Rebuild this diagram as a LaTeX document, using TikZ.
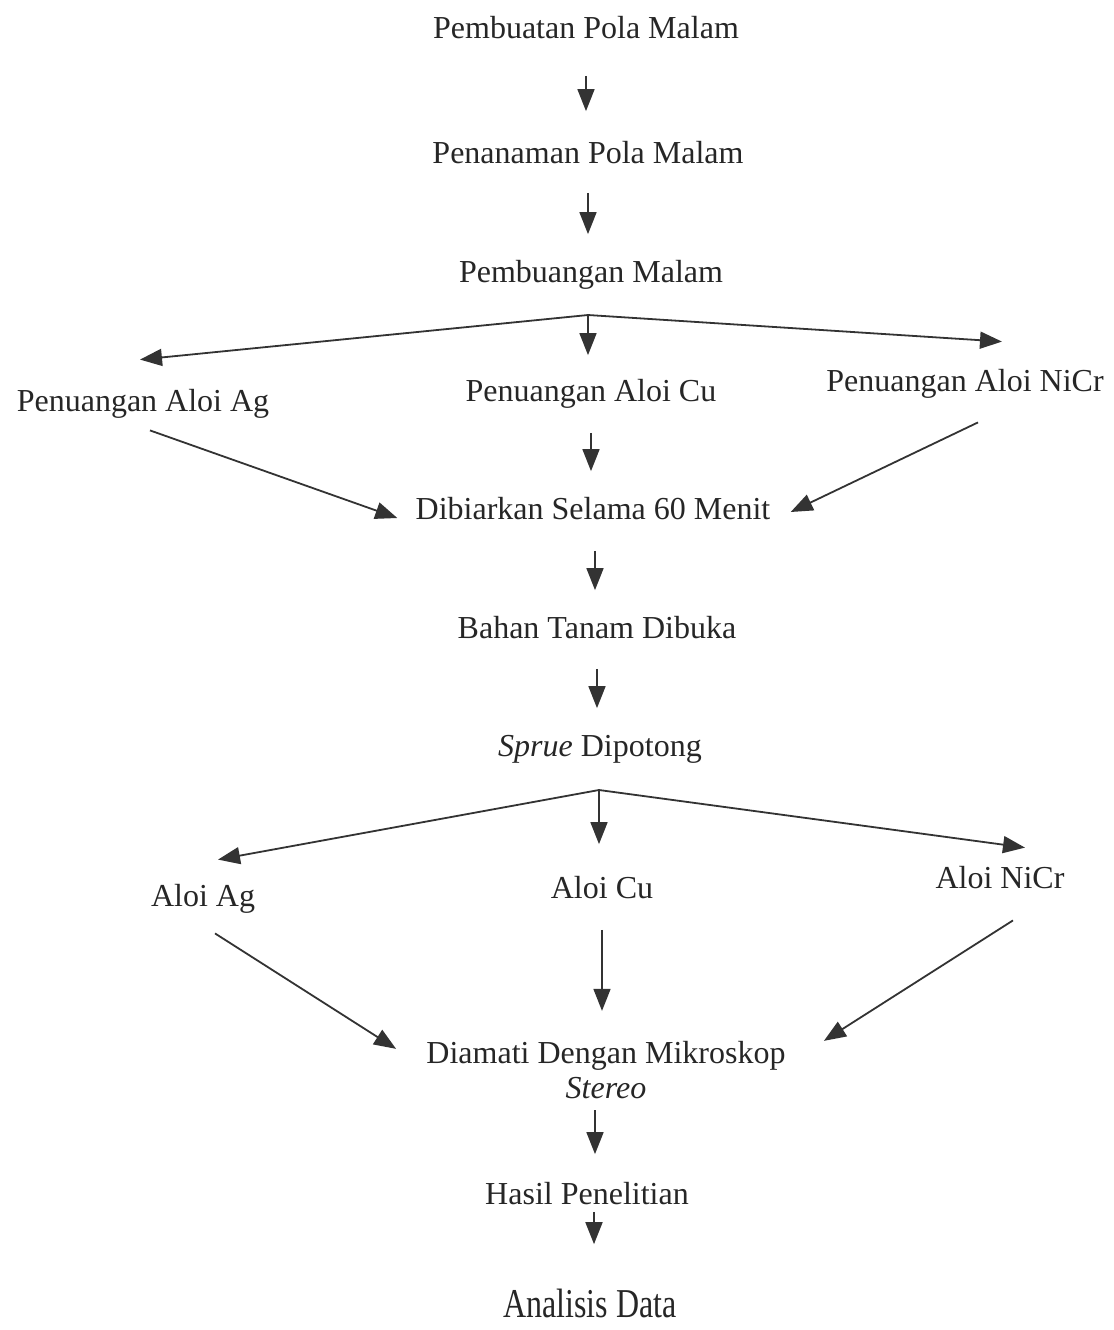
\documentclass[tikz,border=0pt]{standalone}
\usepackage{fontspec}
\setmainfont{Liberation Serif}
\usetikzlibrary{calc,arrows.meta}

\begin{document}
\begin{tikzpicture}[x=0.5pt,y=-0.5pt,font=\fontsize{16}{17.5}\selectfont]
\tikzset{T/.style={inner sep=2pt,text height=13pt,text depth=1.5pt,text=black!85},
A/.style={draw=black!80,line width=0.9pt,-{Triangle[length=11pt,width=8.5pt]},shorten <=12pt,shorten >=9pt}
}
\useasboundingbox (0,0) rectangle (1114,1330);

% Steps before the casting
\node(pbt)[T] at (586,27) {Pembuatan Pola Malam};
\node(pnm)[T] at (588,152) {Penanaman Pola Malam};
\node(pbg)[T] at (591,271) {Pembuangan Malam};

% Casting of the three alloys
\node(ag)[T] at (143,400) {Penuangan Aloi Ag};
\node(cu)[T] at (591,390) {Penuangan Aloi Cu};
\node(nicr)[T] at (965,380) {Penuangan Aloi NiCr};

\node(dib)[T] at (593,508) {Dibiarkan Selama 60 Menit};
\node(bhn)[T] at (597,627) {Bahan Tanam Dibuka};
\node(spr)[T] at (600,745) {\textit{Sprue} Dipotong};

% The three samples
\node(aag)[T] at (203,895) {Aloi Ag};
\node(acu)[T] at (602,887) {Aloi Cu};
\node(anicr)[T] at (1000,877) {Aloi NiCr};

\node(dia)[inner sep=2pt,align=center,text=black!85] at (606,1070) {Diamati Dengan Mikroskop\\\textit{Stereo}};
\node(hasil)[T] at (587,1193) {Hasil Penelitian};
\node(ana)[inner sep=2pt,text=black!85] at (590,1303) {\scalebox{0.78}[1]{\fontsize{20.5}{24}\selectfont Analisis Data}};

% branch points
\coordinate (b1) at (588,315);
\coordinate (b2) at (599,790);

% arrows
\draw[A,shorten <=15pt,shorten >=11pt] (pbt.south) -- (pbt.south |- pnm.north);
\draw[A,shorten <=11pt] (pnm.south) -- (pnm.south |- pbg.north);

\draw[A,shorten <=0pt,shorten >=0pt] (b1) -- ($(ag.north)+(-3,-21.5)$);
\draw[A,shorten <=0pt,shorten >=8pt] (b1) -- (b1 |- cu.north);
\draw[A,shorten <=0pt,shorten >=0pt] (b1) -- ($(nicr.north)+(37,-19.5)$);

\draw[A,shorten <=0pt,shorten >=0pt] ($(ag.south)+(7,11.5)$) -- ($(dib.west)+(-14,10)$);
\draw[A] (cu.south) -- (cu.south |- dib.north);
\draw[A,shorten <=0pt,shorten >=0pt] ($(nicr.south)+(13,23.5)$) -- ($(dib.east)+(16,4)$);

\draw[A] ($(dib.south)+(2,0)$) -- ($(dib.south |- bhn.north)+(2,0)$);
\draw[A,shorten <=11.5pt] (bhn.south) -- (bhn.south |- spr.north);

\draw[A,shorten <=0pt,shorten >=0pt] (b2) -- ($(aag.north)+(15,-16.5)$);
\draw[A,shorten <=0pt,shorten >=12pt] (b2) -- (b2 |- acu.north);
\draw[A,shorten <=0pt,shorten >=0pt] (b2) -- ($(anicr.north)+(25,-10.5)$);

\draw[A,shorten <=0pt,shorten >=0pt] ($(aag.south)+(12,19.5)$) -- ($(dia.north west)+(-26,12)$);
\draw[A,shorten >=13pt] (acu.south) -- (acu.south |- dia.north);
\draw[A,shorten <=0pt,shorten >=0pt] ($(anicr.south)+(13,24.5)$) -- ($(dia.north east)+(34,4)$);

\draw[A,shorten <=3.5pt,shorten >=10pt] ($(dia.south)+(-11,0)$) -- ($(hasil.north)+(8,0)$);
\draw[A,shorten <=0pt,shorten >=20pt] ($(hasil.south)+(7,0)$) -- ($(ana.north)+(4,0)$);

\end{tikzpicture}
\end{document}
